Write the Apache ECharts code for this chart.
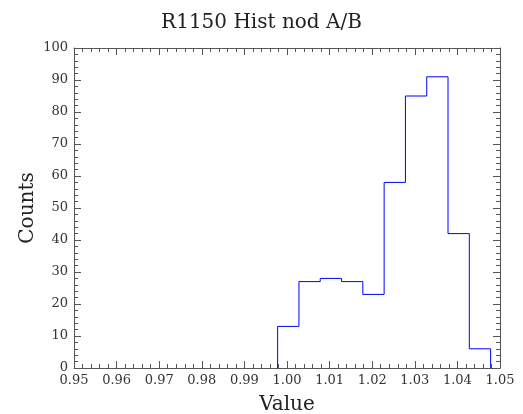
<!DOCTYPE html>
<html>
<head>
<meta charset="utf-8">
<script src="https://cdn.jsdelivr.net/npm/echarts@6/dist/echarts.min.js"></script>
<style>
  html, body { margin: 0; padding: 0; background: #fff; }
  #chart { width: 523px; height: 414px; }
</style>
</head>
<body>
<div id="chart"></div>
<script>
// histogram bins (left edges + last right edge) and counts
const binEdges = [0.9978, 1.0028, 1.0078, 1.0128, 1.0178, 1.0228, 1.0278, 1.0328, 1.0378, 1.0428, 1.0478]
const counts = [13, 27, 28, 27, 23, 58, 85, 91, 42, 6]

// step outline of the histogram
const outline = [[binEdges[0], 0]]
counts.forEach((c, i) => {
  outline.push([binEdges[i], c])
  outline.push([binEdges[i + 1], c])
})
outline.push([binEdges[binEdges.length - 1], 0])

const font = 'DejaVu Serif'
const frameColor = '#555'

const tickAxis = (extra) => Object.assign({
  type: 'value',
  axisLine: { show: true, onZero: false, lineStyle: { color: frameColor, width: 1 } },
  axisTick: { show: true, inside: true, length: 7, lineStyle: { color: frameColor } },
  minorTick: { show: true, splitNumber: 5, length: 4, lineStyle: { color: frameColor } },
  splitLine: { show: false },
  axisLabel: { show: false }
}, extra)

const chart = echarts.init(document.getElementById('chart'))
chart.setOption({
  animation: false,
  title: {
    text: 'R1150 Hist nod A/B',
    left: 'center',
    top: 8,
    textStyle: { fontFamily: font, fontSize: 20, fontWeight: 'normal', color: '#222' }
  },
  grid: { left: 74, right: 23, top: 48, bottom: 46, outerBoundsMode: 'none' },
  xAxis: [
    tickAxis({
      min: 0.95, max: 1.05, interval: 0.01,
      name: 'Value', nameLocation: 'middle', nameGap: 27, nameMoveOverlap: false,
      nameTextStyle: { fontFamily: font, fontSize: 20, color: '#222' },
      axisLabel: {
        show: true, margin: 6, fontFamily: font, fontSize: 13, color: '#333',
        formatter: v => v.toFixed(2)
      }
    }),
    tickAxis({ position: 'top', min: 0.95, max: 1.05, interval: 0.01 })
  ],
  yAxis: [
    tickAxis({
      min: 0, max: 100, interval: 10,
      name: 'Counts', nameLocation: 'middle', nameGap: 36, nameMoveOverlap: false,
      nameTextStyle: { fontFamily: font, fontSize: 20, color: '#222' },
      axisLabel: { show: true, margin: 6, fontFamily: font, fontSize: 13, color: '#333' }
    }),
    tickAxis({ position: 'right', min: 0, max: 100, interval: 10 })
  ],
  series: [{
    type: 'line',
    data: outline,
    showSymbol: false,
    symbol: 'none',
    lineStyle: { color: '#0000ff', width: 1 },
    itemStyle: { color: '#0000ff' }
  }]
})
</script>
</body>
</html>
